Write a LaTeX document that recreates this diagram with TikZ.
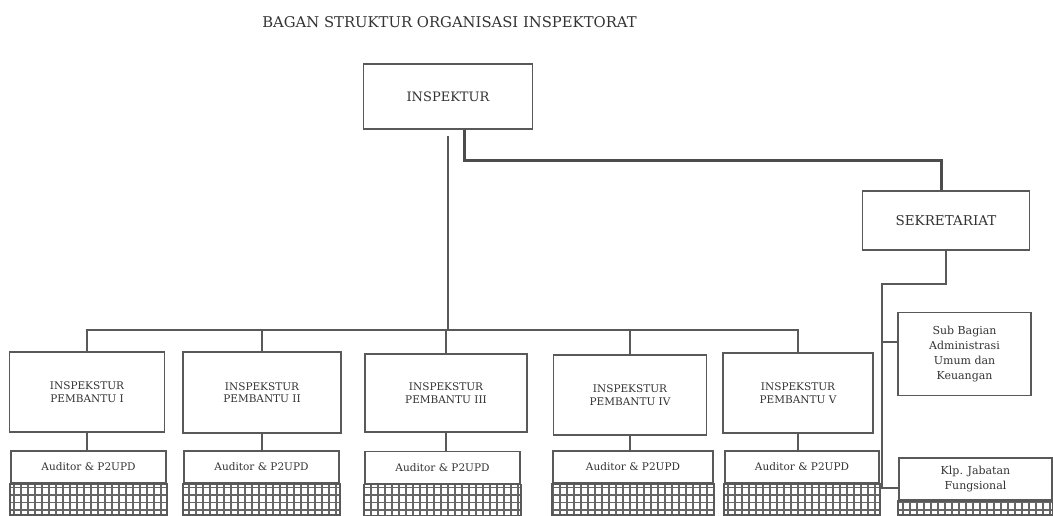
\documentclass[tikz,border=0pt]{standalone}
\usepackage{fontspec}
\setmainfont{DejaVu Serif}

\begin{document}
\begin{tikzpicture}[x=1pt, y=-1pt,
                    ink/.style={draw=black!65, line width=1.8pt},
                    heavy/.style={draw=black!70, line width=3pt},
                    box/.style n args={2}{ink, fill=white, text=black!80,
                    minimum width=#1pt,
                    minimum height=#2pt,
                    inner sep=1pt, align=center},
                    big/.style={font=\fontsize{13.5}{15}\selectfont},
                    small/.style={font=\fontsize{10.5}{12.5}\selectfont},
                    hatchgrid/.style={draw=black!60, line width=1.8pt,
                    xstep=7pt, ystep=7.5pt}]
    \useasboundingbox (0,0) rectangle (1053,515);
    \node[text=black!80, font=\fontsize{14.8}{17}\selectfont] (title) at (449.5,22) {BAGAN STRUKTUR ORGANISASI INSPEKTORAT};
    \node[box={169}{65}, font=\fontsize{13}{15}\selectfont] (insp) at (448,96.5) {INSPEKTUR};
    \node[box={167}{59}, big] (sekr) at (946,220.5) {SEKRETARIAT};
    % inspektur pembantu
    \node[box={155}{80}, small] (ip1) at (87,392) {INSPEKSTUR\\PEMBANTU I};
    \node[box={158}{81}, small] (ip2) at (262,392.5) {INSPEKSTUR\\PEMBANTU II};
    \node[box={162}{78}, small] (ip3) at (446,393) {INSPEKSTUR\\PEMBANTU III};
    \node[box={153}{80}, small] (ip4) at (630,395) {INSPEKSTUR\\PEMBANTU IV};
    \node[box={150}{80}, small] (ip5) at (798,393) {INSPEKSTUR\\PEMBANTU V};
    % auditor
    \node[box={155}{32}, small] (aud1) at (88.5,467) {Auditor \& P2UPD};
    \node[box={155}{32}, small] (aud2) at (261.5,467) {Auditor \& P2UPD};
    \node[box={155}{32}, small] (aud3) at (442.5,467.5) {Auditor \& P2UPD};
    \node[box={160}{32}, small] (aud4) at (633,467) {Auditor \& P2UPD};
    \node[box={154}{32}, small] (aud5) at (802,467) {Auditor \& P2UPD};
    % sekretariat
    \node[box={133}{83}, font=\fontsize{11}{15}\selectfont] (subbag) at (964.5,354) {Sub Bagian\\Administrasi\\Umum dan\\Keuangan};
    \node[box={153}{42}, font=\fontsize{11}{15}\selectfont] (klp) at (975.5,479) {Klp. Jabatan\\Fungsional};
    \foreach \nd/\h in {aud1/31,aud2/31,aud3/31,aud4/31,aud5/31,klp/14} {
        \begin{scope}
            \clip (\nd.south west) rectangle ([yshift=-\h pt]\nd.south east);
            \draw[hatchgrid] ([yshift=4pt]\nd.south west) grid ([yshift=-\h pt-4pt]\nd.south east);
        \end{scope}
        \draw[ink] (\nd.south west) rectangle ([yshift=-\h pt]\nd.south east);
    }
    % connectors
    \coordinate (bus) at (0,330);
    \draw[heavy] ([xshift=16pt]insp.south) -- ++(0,31) -| ([xshift=-5pt]sekr.north);
    \draw[ink] ([yshift=-6pt]insp.south) -- (insp.south |- bus);
    \draw[ink] (ip1.north) -- (ip1.north |- bus) -| (ip5.north);
    \foreach \k in {2,3,4} \draw[ink] (ip\k.north) -- (ip\k.north |- bus);
    \foreach \k in {1,...,5} \draw[ink] (ip\k.south) -- (ip\k.south |- aud\k.north);
    \draw[ink] (sekr.south) -- ++(0,33) -- ++(-64,0) coordinate (spine) |- ([yshift=-9pt]klp.west);
    \draw[ink] (spine |- subbag.west) ++(0,-12) -- ([yshift=12pt]subbag.west);
\end{tikzpicture}
\end{document}
